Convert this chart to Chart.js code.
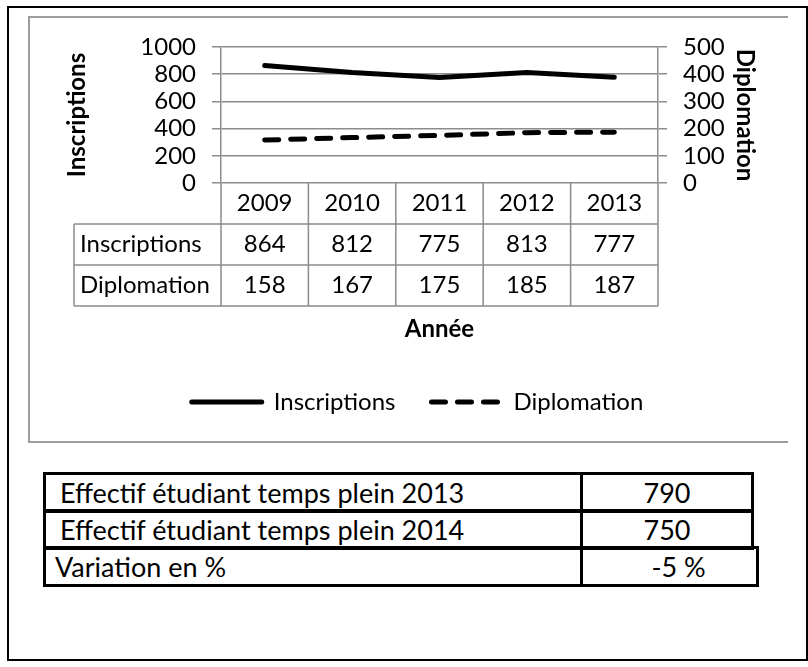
<!DOCTYPE html>
<html>
<head>
<meta charset="utf-8">
<title>Inscriptions et diplomation</title>
<script src="https://cdn.jsdelivr.net/npm/chart.js@4.4.1/dist/chart.umd.min.js"></script>
<style>
    body { margin: 0; background: #fff; font-family: Lato, "Open Sans", sans-serif; }
    #page { position: relative; width: 808px; height: 667px; overflow: hidden; }
    #outer { position: absolute; left: 7px; top: 6px; width: 801px; height: 655px; border: 2px solid #000; box-sizing: border-box; }
    #box { position: absolute; left: 28px; top: 16px; width: 760px; height: 427px; border: 2px solid #9c9c9c; border-right: none; box-sizing: border-box; }
    #chartWrap { position: absolute; left: 0; top: 0; width: 808px; height: 440px; }
    .row { position: absolute; left: 43px; display: flex; border: 3px solid #000; box-sizing: border-box; font-size: 27px; color: #000; }
    .row .lab { width: 537px; border-right: 3px solid #000; display: flex; align-items: center; box-sizing: border-box; }
    .row .val { flex: 1; display: flex; align-items: center; justify-content: center; }
</style>
</head>
<body>
<div id="page">
    <div id="outer"></div>
    <div id="box"></div>
    <div id="chartWrap"><canvas id="trendChart"></canvas></div>

    <div class="row" style="top:472px; height:41px; width:711px;">
        <div class="lab" style="padding-left:14px;">Effectif étudiant temps plein 2013</div>
        <div class="val">790</div>
    </div>
    <div class="row" style="top:509px; height:41px; width:711px;">
        <div class="lab" style="padding-left:14px;">Effectif étudiant temps plein 2014</div>
        <div class="val">750</div>
    </div>
    <div class="row" style="top:546px; height:41px; width:716px;">
        <div class="lab" style="padding-left:9px;">Variation en %</div>
        <div class="val" style="padding-left:18px;">-5 %</div>
    </div>
</div>

<script>
// données
const years = ['2009', '2010', '2011', '2012', '2013'];
const inscriptions = [864, 812, 775, 813, 777];
const diplomation = [158, 167, 175, 185, 187];
const inscriptionsTicks = [0, 200, 400, 600, 800, 1000];
const diplomationTicks = [0, 100, 200, 300, 400, 500];

const gridColor = '#8c8c8c';
const fontFamily = 'Lato';

// tableau de données sous l'axe des x (comme dans Excel)
const dataTablePlugin = {
    id: 'dataTable',
    afterDraw(chart) {
        const ctx = chart.ctx;
        const xScale = chart.scales.x;
        const area = chart.chartArea;
        const rowH = 41;
        const labelLeft = 74;
        const top = area.bottom;
        const colW = (area.right - area.left) / years.length;

        ctx.save();
        ctx.strokeStyle = gridColor;
        ctx.lineWidth = 1.5;
        ctx.beginPath();
        for (let r = 1; r <= 3; r++) {
            ctx.moveTo(labelLeft, top + r * rowH);
            ctx.lineTo(area.right, top + r * rowH);
        }
        for (let i = 0; i <= years.length; i++) {
            const px = area.left + i * colW;
            ctx.moveTo(px, top);
            ctx.lineTo(px, top + 3 * rowH);
        }
        ctx.moveTo(labelLeft, top + rowH);
        ctx.lineTo(labelLeft, top + 3 * rowH);
        ctx.stroke();

        ctx.fillStyle = '#000';
        ctx.font = '24px ' + fontFamily;
        ctx.textBaseline = 'middle';
        const rows = [
            ['', years],
            ['Inscriptions', inscriptions],
            ['Diplomation', diplomation]
        ];
        rows.forEach(([label, values], r) => {
            const cy = top + rowH * (r + 0.5);
            ctx.textAlign = 'left';
            if (label) ctx.fillText(label, labelLeft + 6, cy);
            ctx.textAlign = 'center';
            values.forEach((v, i) => {
                ctx.fillText(String(v), xScale.getPixelForValue(i), cy);
            });
        });
        ctx.restore();
    }
};

window.addEventListener('DOMContentLoaded', function() {
    const ctx = document.getElementById('trendChart');

    new Chart(ctx, {
        type: 'line',
        data: {
            labels: years,
            datasets: [{
                label: 'Inscriptions',
                data: inscriptions,
                yAxisID: 'y',
                borderColor: '#000',
                backgroundColor: '#000',
                borderWidth: 5,
                borderCapStyle: 'round',
                pointRadius: 0,
                tension: 0
            }, {
                label: 'Diplomation',
                data: diplomation,
                yAxisID: 'y1',
                borderColor: '#000',
                backgroundColor: '#000',
                borderWidth: 5,
                borderDash: [14, 12],
                borderCapStyle: 'round',
                pointRadius: 0,
                tension: 0
            }]
        },
        options: {
            responsive: true,
            maintainAspectRatio: false,
            animation: false,
            layout: { padding: { left: 27, right: 0, top: 47, bottom: 16 } },
            plugins: {
                legend: {
                    position: 'bottom',
                    labels: {
                        usePointStyle: true,
                        pointStyle: 'line',
                        pointStyleWidth: 70,
                        padding: 36,
                        color: '#000',
                        font: { family: fontFamily, size: 24 },
                        // le style "point" ne reprend pas les tirets de la ligne
                        generateLabels(chart) {
                            const items = Chart.defaults.plugins.legend.labels.generateLabels(chart);
                            return items.map((item, i) => Object.assign(item, {
                                lineDash: chart.data.datasets[i].borderDash || [],
                                lineCap: 'round',
                                lineWidth: 5
                            }));
                        }
                    }
                },
                tooltip: { enabled: false }
            },
            scales: {
                x: {
                    offset: true,
                    ticks: { display: false },
                    grid: { display: false },
                    border: { display: false },
                    title: {
                        display: true,
                        text: 'Année',
                        color: '#000',
                        font: { family: fontFamily, size: 24, weight: 'bold' },
                        padding: { bottom: 10 }
                    },
                    afterFit(scale) { scale.height = 171; }
                },
                y: {
                    position: 'left',
                    min: inscriptionsTicks[0],
                    max: inscriptionsTicks[inscriptionsTicks.length - 1],
                    afterBuildTicks(scale) { scale.ticks = inscriptionsTicks.map(v => ({ value: v })); },
                    ticks: {
                        autoSkip: false,
                        color: '#000',
                        padding: 16,
                        font: { family: fontFamily, size: 24 },
                        callback: v => String(v)
                    },
                    grid: { color: gridColor, lineWidth: 1.5, tickLength: 9 },
                    border: { color: gridColor, width: 1.5 },
                    title: {
                        display: true,
                        text: 'Inscriptions',
                        color: '#000',
                        font: { family: fontFamily, size: 24, weight: 'bold' },
                        padding: { top: 36 }
                    },
                    afterFit(scale) { scale.width = 194; }
                },
                y1: {
                    position: 'right',
                    min: diplomationTicks[0],
                    max: diplomationTicks[diplomationTicks.length - 1],
                    afterBuildTicks(scale) { scale.ticks = diplomationTicks.map(v => ({ value: v })); },
                    ticks: {
                        autoSkip: false,
                        color: '#000',
                        padding: 16,
                        font: { family: fontFamily, size: 24 },
                        callback: v => String(v)
                    },
                    grid: { drawOnChartArea: false, color: gridColor, lineWidth: 1.5, tickLength: 9 },
                    border: { color: gridColor, width: 1.5 },
                    title: {
                        display: true,
                        text: 'Diplomation',
                        color: '#000',
                        font: { family: fontFamily, size: 24, weight: 'bold' },
                        padding: { top: 49 }
                    },
                    afterFit(scale) { scale.width = 150; }
                }
            }
        },
        plugins: [dataTablePlugin]
    });
});
</script>
</body>
</html>
